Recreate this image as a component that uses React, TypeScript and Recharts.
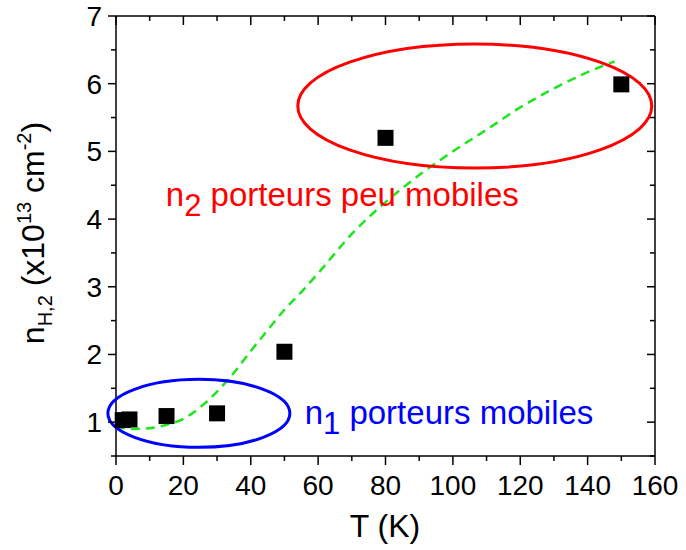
import React from 'react';
import { ComposedChart, Line, Scatter, XAxis, YAxis, ReferenceDot } from 'recharts';

const FONT = '"Liberation Sans", Arial, sans-serif';

// measured points (T in K, n_H,2 in 1e13 cm^-2)
const tempK = [2, 4, 15, 30, 50, 80, 150];
const nH2 = [1.03, 1.04, 1.09, 1.13, 2.04, 5.2, 5.99];

// green dashed fit curve
const fitT = [0, 5, 10, 15, 20, 25, 30, 35, 40, 45, 50, 55, 60, 70, 80, 90, 100, 110, 120, 130, 140, 148];
const fitN = [0.93, 0.9, 0.91, 0.96, 1.05, 1.22, 1.45, 1.73, 2.05, 2.36, 2.66, 2.92, 3.2, 3.78, 4.25, 4.65, 5.0, 5.32, 5.65, 5.93, 6.17, 6.33];

const xTicks = [0, 10, 20, 30, 40, 50, 60, 70, 80, 90, 100, 110, 120, 130, 140, 150, 160];
const yTicks = [0.5, 1, 1.5, 2, 2.5, 3, 3.5, 4, 4.5, 5, 5.5, 6, 6.5, 7];

// annotation anchors (data coords)
const redZone = { T: 106.5, n: 5.67 };
const blueZone = { T: 24.6, n: 1.13 };
const n2Label = { T: 14.8, n: 4.19 };
const n1Label = { T: 56, n: 0.98 };

const points = tempK.map((t, i) => ({ T: t, n: nH2[i] }));
const fit = fitT.map((t, i) => ({ T: t, n: fitN[i] }));

const BottomTick = (props: any) => {
  const { x, y, payload } = props;
  const major = payload.value % 20 === 0;
  return (
    <g>
      <line x1={x} y1={y} x2={x} y2={y + (major ? 9 : 5)} stroke="#000" strokeWidth={1.5} />
      {major && (
        <text x={x} y={y + 39} textAnchor="middle" fontSize={28} fontFamily={FONT} fill="#000">
          {payload.value}
        </text>
      )}
    </g>
  );
};

const TopTick = (props: any) => {
  const { x, y, payload } = props;
  const major = payload.value % 20 === 0;
  return <line x1={x} y1={y} x2={x} y2={y + (major ? 9 : 5)} stroke="#000" strokeWidth={1.5} />;
};

const LeftTick = (props: any) => {
  const { x, y, payload } = props;
  const major = Number.isInteger(payload.value);
  return (
    <g>
      <line x1={x - (major ? 8 : 5)} y1={y} x2={x} y2={y} stroke="#000" strokeWidth={1.5} />
      {major && (
        <text x={x - 14} y={y + 10} textAnchor="end" fontSize={28} fontFamily={FONT} fill="#000">
          {payload.value}
        </text>
      )}
    </g>
  );
};

const RightTick = (props: any) => {
  const { x, y, payload } = props;
  const major = Number.isInteger(payload.value);
  return <line x1={x - (major ? 8 : 5)} y1={y} x2={x} y2={y} stroke="#000" strokeWidth={1.5} />;
};

const YLabel = () => {
  const cx = 44;
  const cy = 233;
  return (
    <text x={cx} y={cy} transform={`rotate(-90, ${cx}, ${cy})`} textAnchor="middle" fontSize={32} fontFamily={FONT} fill="#000">
      n<tspan fontSize={20} dy={8}>H,2</tspan>
      <tspan dy={-8}> (x10</tspan>
      <tspan fontSize={20} dy={-13}>13</tspan>
      <tspan dy={13}> cm</tspan>
      <tspan fontSize={20} dy={-13}>-2</tspan>
      <tspan dy={13}>)</tspan>
    </text>
  );
};

const XLabel = () => (
  <text x={385} y={537} textAnchor="middle" fontSize={32} fontFamily={FONT} fill="#000">
    T (K)
  </text>
);

const Square = (p: any) => <rect x={p.cx - 8} y={p.cy - 8} width={16} height={16} fill="#000" />;

export default function App() {
  return (
    <div style={{ position: 'absolute', left: 0, top: 0, width: 686, height: 550, background: '#fff' }}>
      <ComposedChart width={686} height={550} margin={{ top: 15, right: 30, bottom: 0, left: 0 }}>
        <XAxis
          xAxisId="b" type="number" dataKey="T" domain={[0, 160]} ticks={xTicks} interval={0}
          orientation="bottom" height={94} tickSize={0} tickMargin={0} tickLine={false}
          axisLine={{ stroke: '#000', strokeWidth: 1.5 }} tick={<BottomTick />} label={<XLabel />}
        />
        <XAxis
          xAxisId="t" type="number" dataKey="T" domain={[0, 160]} ticks={xTicks} interval={0}
          orientation="top" height={1} tickSize={0} tickMargin={0} tickLine={false}
          axisLine={{ stroke: '#000', strokeWidth: 1.5 }} tick={<TopTick />}
        />
        <YAxis
          yAxisId="l" type="number" domain={[0.5, 7]} ticks={yTicks} interval={0}
          orientation="left" width={116} tickSize={0} tickMargin={0} tickLine={false}
          axisLine={{ stroke: '#000', strokeWidth: 1.5 }} tick={<LeftTick />} label={<YLabel />}
        />
        <YAxis
          yAxisId="r" type="number" domain={[0.5, 7]} ticks={yTicks} interval={0}
          orientation="right" width={1} tickSize={0} tickMargin={0} tickLine={false}
          axisLine={{ stroke: '#000', strokeWidth: 1.5 }} tick={<RightTick />}
        />
        <ReferenceDot
          xAxisId="b" yAxisId="l" x={redZone.T} y={redZone.n} ifOverflow="visible"
          shape={(p: any) => <ellipse cx={p.cx} cy={p.cy} rx={177} ry={62} fill="none" stroke="#ff0000" strokeWidth={3} />}
        />
        <ReferenceDot
          xAxisId="b" yAxisId="l" x={blueZone.T} y={blueZone.n} ifOverflow="visible"
          shape={(p: any) => <ellipse cx={p.cx} cy={p.cy} rx={91} ry={34} fill="none" stroke="#0000ff" strokeWidth={3} />}
        />
        <ReferenceDot
          xAxisId="b" yAxisId="l" x={n2Label.T} y={n2Label.n} ifOverflow="visible"
          shape={(p: any) => (
            <text x={p.cx} y={p.cy} fontSize={33} fontFamily={FONT} fill="#ff0000">
              n<tspan fontSize={31} dy={10}>2</tspan>
              <tspan dy={-10}> porteurs peu mobiles</tspan>
            </text>
          )}
        />
        <ReferenceDot
          xAxisId="b" yAxisId="l" x={n1Label.T} y={n1Label.n} ifOverflow="visible"
          shape={(p: any) => (
            <text x={p.cx} y={p.cy} fontSize={33} fontFamily={FONT} fill="#0000ff">
              n<tspan fontSize={31} dy={10}>1</tspan>
              <tspan dy={-10}> porteurs mobiles</tspan>
            </text>
          )}
        />
        {/* invisible series so the mirrored top/right axes get drawn */}
        <Line
          xAxisId="t" yAxisId="r" data={points} dataKey="n" stroke="none" dot={false}
          activeDot={false} legendType="none" isAnimationActive={false}
        />
        <Line
          xAxisId="b" yAxisId="l" data={fit} dataKey="n" type="monotone" stroke="#1ee61e" strokeWidth={2.5}
          strokeDasharray="9 6" dot={false} isAnimationActive={false}
        />
        <Scatter xAxisId="b" yAxisId="l" data={points} dataKey="n" shape={<Square />} isAnimationActive={false} />
      </ComposedChart>
    </div>
  );
}
